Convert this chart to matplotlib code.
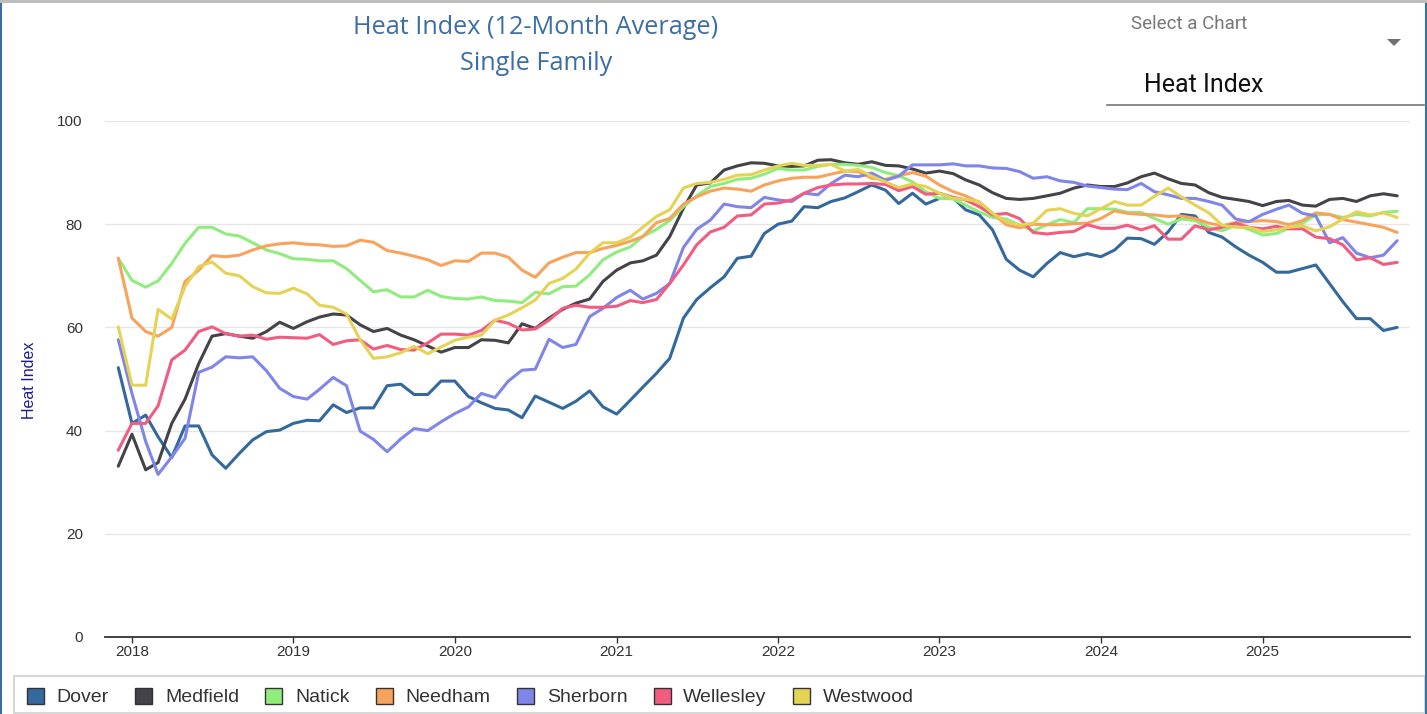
import matplotlib
matplotlib.use("Agg")
import matplotlib.pyplot as plt
import pandas as pd
from matplotlib.patches import Rectangle, Patch, Polygon
from matplotlib.lines import Line2D

# ---------------- data ----------------
dates = pd.date_range("2017-12-01", periods=96, freq="MS")

series_names = ["Dover", "Medfield", "Natick", "Needham", "Sherborn", "Wellesley", "Westwood"]
series_colors = ["#33699c", "#434348", "#90ed7d", "#f7a35c", "#8085e9", "#f15c80", "#e4d354"]

dover = [52.2, 41.4, 43.0, 38.8, 34.8, 40.9, 40.9, 35.3, 32.7, 35.6, 38.2, 39.8, 40.1, 41.4, 42.0, 41.9, 45.0, 43.5, 44.4, 44.4, 48.7, 49.0,
         47.0, 47.0, 49.6, 49.6, 46.6, 45.4, 44.3, 44.0, 42.5, 46.7, 45.5, 44.3, 45.7, 47.7, 44.6,
         43.2, 45.9, 48.4, 51.1, 54.0, 61.8, 65.4, 67.7, 69.8, 73.4, 73.8, 78.2, 80.0, 80.6, 83.4, 83.2, 84.4, 85.1, 86.3, 87.6, 86.6, 84.0,
         86.0, 83.9, 85.0, 85.1, 82.8, 81.8, 78.9, 73.2, 71.1, 69.8, 72.4, 74.5, 73.7, 74.3, 73.7, 75.0, 77.3,
         77.2, 76.1, 78.5, 81.9, 81.6, 78.4, 77.5, 75.6, 74.0, 72.6, 70.7, 70.7, 71.4, 72.1, 68.5, 65.0, 61.7, 61.7, 59.4, 60.0]
medfield = [33.1, 39.3, 32.4, 33.8, 41.4, 46.1, 53.0, 58.3, 58.8, 58.3, 57.9, 59.2, 61.0, 59.8, 61.1, 62.0, 62.6, 62.4, 60.5, 59.2, 59.8, 58.5,
            57.6, 56.4, 55.2, 56.1, 56.1, 57.6, 57.5, 57.0, 60.7, 59.8, 61.8, 63.5, 64.7, 65.5, 68.9,
            71.1, 72.5, 72.9, 74.0, 77.6, 83.1, 87.6, 88.0, 90.5, 91.3, 91.9, 91.8, 91.3, 91.2, 91.3, 92.4, 92.5, 91.9, 91.6, 92.1, 91.4, 91.3,
            90.7, 89.9, 90.3, 89.8, 88.6, 87.6, 86.1, 85.0, 84.8, 85.0, 85.5, 86.0, 87.0, 87.6, 87.3, 87.3, 88.0,
            89.2, 89.9, 88.8, 87.9, 87.6, 86.1, 85.2, 84.8, 84.4, 83.6, 84.4, 84.6, 83.7, 83.5, 84.8, 85.0, 84.4, 85.5, 85.9, 85.5]
natick = [73.4, 69.1, 67.8, 69.0, 72.4, 76.3, 79.4, 79.4, 78.1, 77.7, 76.4, 75.0, 74.3, 73.3, 73.2, 72.9, 72.9, 71.4, 69.1, 66.9, 67.3, 65.9,
          65.9, 67.2, 66.0, 65.6, 65.5, 65.9, 65.2, 65.1, 64.8, 66.8, 66.5, 67.9, 68.0, 70.2, 73.1,
          74.6, 75.6, 77.6, 79.0, 80.7, 83.4, 85.5, 87.3, 87.9, 88.7, 88.9, 89.7, 90.8, 90.5, 90.5, 91.2, 91.6, 91.6, 91.4, 91.0, 90.0, 89.4,
          88.2, 86.3, 85.0, 84.9, 83.7, 82.4, 81.3, 81.0, 79.8, 78.7, 79.9, 80.9, 80.3, 83.0, 83.0, 82.9, 82.3,
          82.3, 81.1, 80.0, 81.0, 80.7, 79.4, 78.7, 79.8, 79.0, 77.9, 78.2, 79.2, 80.2, 81.8, 81.9, 81.3, 81.9, 81.6, 82.3, 82.5]
needham = [73.4, 61.8, 59.2, 58.3, 60.0, 68.9, 71.1, 73.9, 73.7, 74.0, 75.0, 75.8, 76.2, 76.4, 76.1, 76.0, 75.7, 75.8, 76.9, 76.5, 74.9, 74.4,
           73.8, 73.1, 72.0, 72.9, 72.8, 74.4, 74.4, 73.6, 71.1, 69.7, 72.5, 73.6, 74.5, 74.5, 75.3,
           75.9, 76.7, 77.6, 80.3, 81.1, 83.9, 85.3, 86.4, 87.0, 86.8, 86.4, 87.6, 88.4, 88.9, 89.1, 89.1, 89.7, 90.3, 90.2, 88.9, 88.7, 89.4,
           90.0, 89.3, 87.6, 86.3, 85.5, 84.2, 82.1, 79.9, 79.3, 80.0, 79.9, 79.9, 80.1, 80.2, 81.1, 82.6, 82.1,
           81.9, 81.8, 81.5, 81.6, 81.1, 80.2, 79.7, 80.3, 80.5, 80.7, 80.5, 79.9, 80.7, 82.2, 81.9, 80.9, 80.4, 79.9, 79.4, 78.4]
sherborn = [57.6, 47.2, 37.9, 31.5, 34.9, 38.5, 51.3, 52.3, 54.3, 54.1, 54.3, 51.6, 48.2, 46.6, 46.1, 48.0, 50.3, 48.7, 39.9, 38.3, 35.9, 38.4,
            40.4, 40.0, 41.7, 43.3, 44.6, 47.2, 46.4, 49.6, 51.7, 51.9, 57.7, 56.1, 56.7, 62.1, 63.7,
            65.8, 67.2, 65.5, 66.6, 68.5, 75.5, 79.0, 80.8, 83.9, 83.4, 83.2, 85.2, 84.7, 84.4, 86.0, 85.7, 87.9, 89.5, 89.2, 89.9, 88.5, 89.3,
            91.5, 91.5, 91.5, 91.7, 91.3, 91.3, 90.9, 90.8, 90.2, 88.9, 89.2, 88.4, 88.1, 87.4, 87.1, 86.8, 86.7,
            87.9, 86.3, 85.7, 85.0, 85.0, 84.4, 83.7, 81.0, 80.5, 81.9, 82.9, 83.7, 82.1, 81.6, 76.4, 77.4, 74.4, 73.5, 74.0, 76.8]
wellesley = [36.2, 41.4, 41.4, 44.8, 53.7, 55.6, 59.2, 60.1, 58.8, 58.3, 58.5, 57.7, 58.1, 58.0, 57.9, 58.6, 56.7, 57.4, 57.6, 55.8, 56.5, 55.7,
             55.6, 57.0, 58.7, 58.7, 58.5, 59.4, 61.4, 60.8, 59.5, 59.7, 61.4, 63.7, 64.3, 63.9, 63.9,
             64.1, 65.2, 64.8, 65.4, 68.5, 72.1, 76.0, 78.5, 79.4, 81.6, 81.8, 83.9, 84.1, 84.7, 86.0, 87.1, 87.6, 87.8, 87.8, 87.9, 87.7, 86.5,
             87.3, 85.8, 86.0, 85.2, 84.7, 83.4, 81.8, 82.1, 81.1, 78.4, 78.1, 78.4, 78.6, 79.9, 79.2, 79.2, 79.8,
             78.9, 79.7, 77.1, 77.1, 79.7, 78.9, 79.4, 80.2, 79.4, 79.1, 79.6, 79.1, 79.1, 77.5, 77.2, 76.0, 73.1, 73.5, 72.2, 72.6]
westwood = [60.1, 48.8, 48.8, 63.5, 61.6, 67.9, 71.8, 72.7, 70.5, 70.0, 67.9, 66.7, 66.6, 67.6, 66.5, 64.3, 63.9, 62.6, 57.6, 54.0, 54.3, 55.1,
            56.3, 54.9, 56.2, 57.5, 58.1, 58.5, 61.4, 62.4, 63.8, 65.3, 68.5, 69.5, 71.3, 74.4, 76.4,
            76.4, 77.5, 79.4, 81.5, 82.8, 87.0, 87.9, 88.1, 88.7, 89.5, 89.6, 90.5, 91.3, 91.8, 91.4, 91.4, 91.6, 90.3, 90.6, 89.3, 88.2, 87.1,
            87.8, 87.3, 86.0, 85.0, 84.8, 84.4, 82.1, 80.5, 79.8, 80.2, 82.7, 83.0, 82.1, 81.6, 83.0, 84.4, 83.7,
            83.7, 85.4, 87.0, 85.3, 83.7, 82.2, 79.8, 79.4, 79.4, 78.6, 78.9, 79.4, 79.7, 78.7, 79.5, 81.0, 82.4, 81.8, 82.2, 81.3]

series_values = [dover, medfield, natick, needham, sherborn, wellesley, westwood]
y_ticks = [0, 20, 40, 60, 80, 100]
x_tick_years = [2018, 2019, 2020, 2021, 2022, 2023, 2024, 2025]

# ---------------- figure ----------------
W, H = 1427, 714
fig = plt.figure(figsize=(W / 100, H / 100), dpi=100)
fig.patch.set_facecolor("white")

def fx(px):
    return px / W

def fy(py):
    return 1 - py / H

ax = fig.add_axes([fx(105), fy(637), fx(1410) - fx(105), fy(121) - fy(637)])
ax.set_facecolor("white")

for name, vals, col in zip(series_names, series_values, series_colors):
    ax.plot(dates, vals, color=col, lw=2.2, solid_joinstyle="round", solid_capstyle="round", label=name)

ax.set_ylim(0, 100)
ax.set_xlim(pd.Timestamp("2017-11-01"), pd.Timestamp("2025-11-30"))
ax.set_yticks(y_ticks)
ax.set_yticklabels([str(v) for v in y_ticks])
ax.set_xticks([pd.Timestamp(f"{y}-01-01") for y in x_tick_years])
ax.set_xticklabels([str(y) for y in x_tick_years])
ax.grid(axis="y", color="#e6e6e6", lw=1)
ax.set_axisbelow(True)
for s in ["left", "right", "top"]:
    ax.spines[s].set_visible(False)
ax.spines["bottom"].set_color("#333333")
ax.spines["bottom"].set_linewidth(1.3)
ax.spines["bottom"].set_zorder(5)
ax.tick_params(axis="y", length=0, pad=16, labelsize=11, labelcolor="#333333")
ax.tick_params(axis="x", length=4, width=1, color="#333333", pad=2, labelsize=11, labelcolor="#333333")
for lab in ax.get_xticklabels() + ax.get_yticklabels():
    lab.set_fontfamily(["Liberation Sans", "DejaVu Sans"])

# y-axis label
fig.text(fx(29), fy(380), "Heat Index", rotation=90, ha="center", va="center",
         fontsize=11.5, color="#1c1c8c", family=["Liberation Sans", "DejaVu Sans"])

# titles
fig.text(fx(536), fy(28), "Heat Index (12-Month Average)", ha="center", va="center",
         fontsize=18.2, color="#3b6ea5", family=["Open Sans", "DejaVu Sans"])
fig.text(fx(536), fy(63), "Single Family", ha="center", va="center",
         fontsize=18.2, color="#3b6ea5", family=["Open Sans", "DejaVu Sans"])

# selector widget
fig.text(fx(1131), fy(24), "Select a Chart", ha="left", va="center",
         fontsize=13.5, color="#777777", family=["Roboto", "DejaVu Sans"])
fig.text(fx(1144), fy(85), "Heat Index", ha="left", va="center",
         fontsize=18, color="#111111", family=["Roboto", "DejaVu Sans"])
fig.add_artist(Polygon([[fx(1387), fy(39)], [fx(1401), fy(39)], [fx(1394), fy(46)]],
                       closed=True, facecolor="#707070", edgecolor="none", transform=fig.transFigure))
fig.add_artist(Line2D([fx(1107), fx(1424)], [fy(105), fy(105)], color="#777777", lw=1.2,
                      transform=fig.transFigure))

# legend frame + legend
fig.add_artist(Rectangle((fx(14), fy(712.5)), fx(1425) - fx(14), fy(676) - fy(712.5),
                         facecolor="white", edgecolor="#d0d0d0", lw=1.2, transform=fig.transFigure))
handles = [Patch(facecolor=c, edgecolor="#333333", lw=1) for c in series_colors]
leg = fig.legend(handles, series_names, loc="center left", bbox_to_anchor=(fx(27), fy(697)),
                 ncol=7, frameon=False, fontsize=14, borderpad=0, borderaxespad=0,
                 handlelength=0.88, handleheight=0.88, handletextpad=0.65, columnspacing=1.35,
                 prop={"family": ["Liberation Sans", "DejaVu Sans"], "size": 14})
for t in leg.get_texts():
    t.set_color("#333333")

# page borders
fig.add_artist(Rectangle((0, 0), fx(2), 1, facecolor="#3a6ea8", edgecolor="none", transform=fig.transFigure))
fig.add_artist(Rectangle((fx(1424.5), 0), fx(2.5), 1, facecolor="#3a6ea8", edgecolor="none", transform=fig.transFigure))
fig.add_artist(Rectangle((0, fy(3)), 1, fy(0) - fy(3), facecolor="#bdbdbd", edgecolor="none", transform=fig.transFigure))

fig.savefig("out.png", dpi=100, facecolor="white")
